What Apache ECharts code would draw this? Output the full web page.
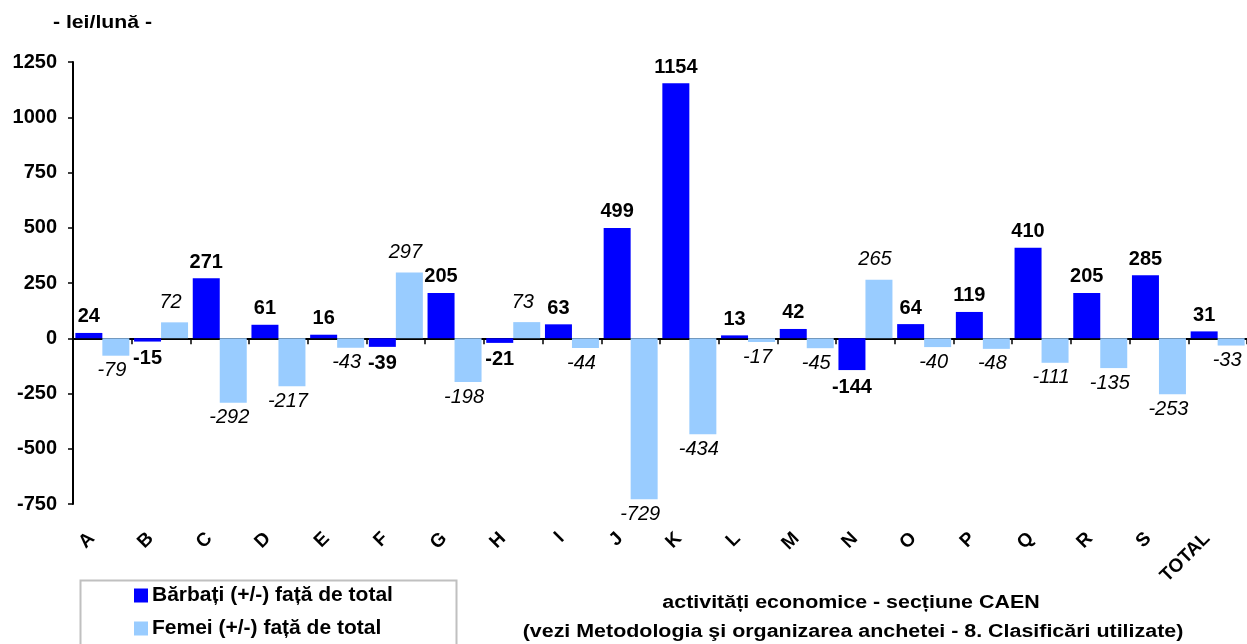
<!DOCTYPE html>
<html>
<head>
<meta charset="utf-8">
<script src="https://cdn.jsdelivr.net/npm/echarts@6/dist/echarts.min.js"></script>
<style>
html,body{margin:0;padding:0;background:#fff;}
#chart{width:1247px;height:644px;}
</style>
</head>
<body>
<div id="chart"></div>
<script>
const categories = ['A','B','C','D','E','F','G','H','I','J','K','L','M','N','O','P','Q','R','S','TOTAL'];
const barbati = [24,-15,271,61,16,-39,205,-21,63,499,1154,13,42,-144,64,119,410,205,285,31];
const femei = [-79,72,-292,-217,-43,297,-198,73,-44,-729,-434,-17,-45,265,-40,-48,-111,-135,-253,-33];
const seriesNames = ['Bărbați (+/-) față de total','Femei (+/-) față de total'];
const yTitle = '- lei/lună -';
const xTitle1 = 'activități economice - secțiune CAEN';
const xTitle2 = '(vezi Metodologia şi organizarea anchetei - 8. Clasificări utilizate)';

const FONT = '"Liberation Sans", Arial, sans-serif';

function withLabels(values, dist) {
  return values.map(v => ({
    value: v,
    label: { position: v >= 0 ? 'top' : 'bottom', distance: v >= 0 ? dist[0] : dist[1] }
  }));
}

const chart = echarts.init(document.getElementById('chart'), null, {renderer: 'canvas'});
chart.setOption({
  animation: false,
  backgroundColor: '#ffffff',
  grid: { left: 73, right: -6, top: 62, bottom: 140, containLabel: false },
  legend: {
    orient: 'vertical', left: 134, top: 585, height: 60, padding: 0,
    itemWidth: 14, itemHeight: 14, itemGap: 12, icon: 'rect',
    data: seriesNames,
    textStyle: { fontFamily: FONT, fontWeight: 'bold', fontSize: 21, color: '#000', lineHeight: 20, padding: [0,0,0,-1] }
  },
  xAxis: [
    {
      type: 'category', data: categories, position: 'bottom',
      axisLine: { onZero: true, lineStyle: { color: '#000', width: 2 } },
      axisTick: { show: true, length: 6, lineStyle: { color: '#000', width: 1.5 } },
      axisLabel: { show: false },
      splitLine: { show: false }
    },
    {
      type: 'category', data: categories, position: 'bottom',
      axisLine: { show: false, onZero: false },
      axisTick: { show: false },
      axisLabel: {
        show: true, rotate: 45, margin: 21, interval: 0,
        padding: [0, 15, 0, 0],
        fontFamily: FONT, fontWeight: 'bold', fontSize: 19, color: '#000'
      },
      splitLine: { show: false }
    }
  ],
  yAxis: {
    type: 'value', min: -750, max: 1250, interval: 250,
    axisLine: { show: true, lineStyle: { color: '#000', width: 2 } },
    axisTick: { show: true, length: 5, lineStyle: { color: '#000', width: 1.5 } },
    axisLabel: { margin: 16, fontFamily: FONT, fontWeight: 'bold', fontSize: 20, color: '#000',
      formatter: v => String(v) },
    splitLine: { show: false }
  },
  series: [
    {
      name: seriesNames[0], type: 'bar', xAxisIndex: 0,
      data: withLabels(barbati, [6, 7]),
      barWidth: 27, barGap: '0%',
      itemStyle: { color: '#0000FF' },
      label: { show: true, fontFamily: FONT, fontWeight: 'bold', fontSize: 20, color: '#000' }
    },
    {
      name: seriesNames[1], type: 'bar', xAxisIndex: 0,
      data: withLabels(femei, [10, 5]),
      barWidth: 27, barGap: '0%',
      itemStyle: { color: '#99CCFF' },
      label: { show: true, offset: [-4, 0], fontFamily: FONT, fontStyle: 'italic', fontWeight: 'normal', fontSize: 20, color: '#000' }
    }
  ],
  graphic: [
    {
      type: 'rect', left: 78, top: 578, z: -1,
      shape: { width: 376, height: 80 },
      style: { fill: 'none', stroke: '#c0c0c0', lineWidth: 2 }
    },
    {
      type: 'text', x: 102.5, y: 23, scaleX: 1.18,
      style: { text: yTitle, textAlign: 'center', textVerticalAlign: 'middle', font: 'bold 18px ' + FONT, fill: '#000' }
    },
    {
      type: 'text', x: 851, y: 603, scaleX: 1.19,
      style: { text: xTitle1, textAlign: 'center', textVerticalAlign: 'middle', font: 'bold 18px ' + FONT, fill: '#000' }
    },
    {
      type: 'text', x: 853, y: 632, scaleX: 1.19,
      style: { text: xTitle2, textAlign: 'center', textVerticalAlign: 'middle', font: 'bold 18px ' + FONT, fill: '#000' }
    }
  ]
});
</script>
</body>
</html>
